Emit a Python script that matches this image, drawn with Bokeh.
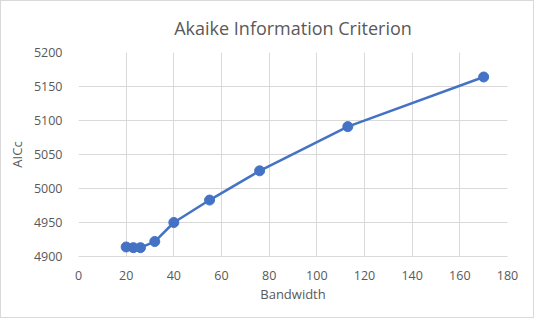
from bokeh.plotting import figure
from bokeh.models import Range1d, FixedTicker
from bokeh.embed import file_html
from bokeh.resources import INLINE

bandwidth = [20, 23, 26, 32, 40, 55, 76, 113, 170]
aicc = [4914, 4913, 4913, 4922, 4950, 4983, 5026, 5091, 5164]
x_ticks = [0, 20, 40, 60, 80, 100, 120, 140, 160, 180]
y_ticks = [4900, 4950, 5000, 5050, 5100, 5150, 5200]

FONT = "Open Sans"
GREY = "#595959"

p = figure(width=534, height=318, output_backend="svg", toolbar_location=None,
           x_range=Range1d(0, 180), y_range=Range1d(4900, 5200),
           min_border_left=77, min_border_right=28, min_border_bottom=63, min_border_top=0,
           title="Akaike Information Criterion")
p.styles = {"border": "1px solid #d9d9d9"}
p.title.align = "center"
p.title.text_font = FONT
p.title.text_font_size = "18px"
p.title.text_font_style = "normal"
p.title.text_color = GREY
p.title.offset = 0
p.title.standoff = 25

p.outline_line_color = None
p.background_fill_color = "white"
p.border_fill_color = "white"

p.xaxis.ticker = FixedTicker(ticks=x_ticks)
p.yaxis.ticker = FixedTicker(ticks=y_ticks)
p.xgrid.grid_line_color = "#d9d9d9"
p.ygrid.grid_line_color = "#d9d9d9"
p.xgrid.grid_line_width = 1
p.ygrid.grid_line_width = 1

for ax in (p.xaxis, p.yaxis):
    ax.major_tick_line_color = None
    ax.minor_tick_line_color = None
    ax.major_label_text_font = FONT
    ax.major_label_text_font_size = "12.5px"
    ax.major_label_text_color = GREY
    ax.axis_label_text_font = FONT
    ax.axis_label_text_font_size = "13px"
    ax.axis_label_text_font_style = "normal"
    ax.axis_label_text_color = GREY
p.xaxis.axis_line_color = "#d9d9d9"
p.yaxis.axis_line_color = None
p.xaxis.axis_label = "Bandwidth"
p.yaxis.axis_label = "AICc"
p.xaxis.major_label_standoff = 8
p.yaxis.major_label_standoff = 10
p.xaxis.axis_label_standoff = 2
p.yaxis.axis_label_standoff = 5

p.line(bandwidth, aicc, line_color="#4472C4", line_width=2.5)
p.scatter(bandwidth, aicc, size=10, fill_color="#4472C4", line_color="#4472C4")

open("out.html", "w").write(file_html(p, INLINE))
